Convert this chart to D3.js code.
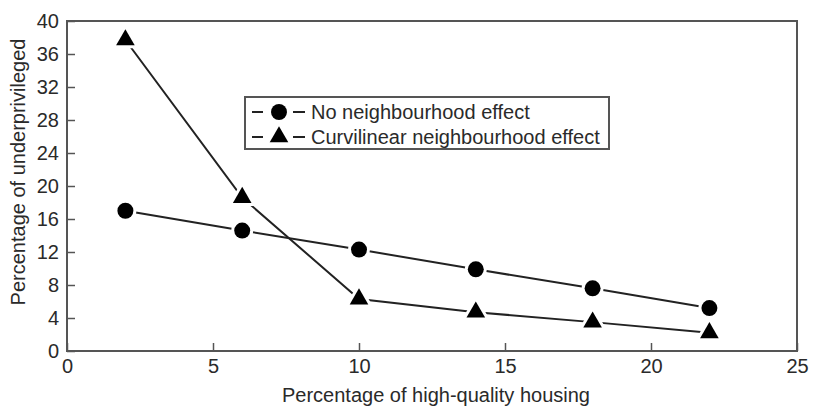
<!DOCTYPE html>
<html lang="en">
<head>
<meta charset="UTF-8">
<title>Underprivileged vs housing</title>
<script src="https://d3js.org/d3.v7.min.js"></script>
<style>
  body { margin: 0; background: #fff; }
  svg { font-family: 'Liberation Sans', Arial, sans-serif; }
</style>
</head>
<body>
<div id="chart"></div>
<script>
// data
const xValues = [2, 6, 10, 14, 18, 22];
const noEffect = [17, 14.6, 12.3, 9.9, 7.6, 5.2];
const curvilinear = [37.7, 18.6, 6.3, 4.7, 3.5, 2.2];
const xTicks = [0, 5, 10, 15, 20, 25];
const yTicks = [0, 4, 8, 12, 16, 20, 24, 28, 32, 36, 40];
const seriesNames = ['No neighbourhood effect', 'Curvilinear neighbourhood effect'];

const W = 814, H = 408;
const margin = { top: 21, right: 17, bottom: 57, left: 67 };
const iw = W - margin.left - margin.right;
const ih = H - margin.top - margin.bottom;

const svg = d3.select('#chart').append('svg')
  .attr('width', W).attr('height', H);
const g = svg.append('g').attr('transform', `translate(${margin.left},${margin.top})`);

const x = d3.scaleLinear().domain([0, 25]).range([0, iw]);
const y = d3.scaleLinear().domain([0, 40]).range([ih, 0]);

const axisColor = '#555';
const textColor = '#2a2a2a';

const line = d3.line().x(d => x(d[0])).y(d => y(d[1]));
const circleSym = d3.symbol().type(d3.symbolCircle).size(200);
const triSym = d3.symbol().type(d3.symbolTriangle).size(150);

function drawSeries(vals, sym) {
  const pts = xValues.map((v, i) => [v, vals[i]]);
  g.append('path').datum(pts).attr('d', line)
    .attr('fill', 'none').attr('stroke', '#222').attr('stroke-width', 2);
  g.selectAll(null).data(pts).enter().append('path')
    .attr('d', sym)
    .attr('transform', d => `translate(${x(d[0])},${y(d[1])})`)
    .attr('fill', '#000').attr('stroke', '#fff').attr('stroke-width', 6)
    .attr('paint-order', 'stroke');
}
drawSeries(noEffect, circleSym);
drawSeries(curvilinear, triSym);

// frame drawn over the marks
g.append('rect').attr('width', iw).attr('height', ih)
  .attr('fill', 'none').attr('stroke', axisColor).attr('stroke-width', 2);

// y axis, ticks pointing inward
const yAxis = g.append('g')
  .call(d3.axisRight(y).tickValues(yTicks).tickSize(8).tickFormat(d3.format('d')));
yAxis.select('.domain').remove();
yAxis.selectAll('line').attr('stroke', axisColor).attr('stroke-width', 1.5);
yAxis.selectAll('text').attr('x', -8).attr('text-anchor', 'end')
  .attr('font-size', 20).attr('fill', textColor);

// x axis, ticks pointing inward
const xAxis = g.append('g').attr('transform', `translate(0,${ih})`)
  .call(d3.axisTop(x).tickValues(xTicks).tickSize(8).tickFormat(d3.format('d')));
xAxis.select('.domain').remove();
xAxis.selectAll('line').attr('stroke', axisColor).attr('stroke-width', 1.5);
xAxis.selectAll('text').attr('y', 8).attr('dy', '0.71em')
  .attr('font-size', 20).attr('fill', textColor);

// axis titles
svg.append('text')
  .attr('x', 436).attr('y', 402)
  .attr('text-anchor', 'middle').attr('font-size', 20).attr('fill', textColor)
  .text('Percentage of high-quality housing');
svg.append('text')
  .attr('transform', 'translate(25,172) rotate(-90)')
  .attr('text-anchor', 'middle').attr('font-size', 20).attr('fill', textColor)
  .text('Percentage of underprivileged');

// legend
const lg = svg.append('g').attr('transform', 'translate(245,97)');
lg.append('rect').attr('width', 364).attr('height', 52)
  .attr('fill', '#fff').attr('stroke', axisColor).attr('stroke-width', 2);
[circleSym, triSym].forEach((sym, i) => {
  const cy = 15 + i * 25;
  lg.append('line').attr('x1', 7).attr('x2', 18).attr('y1', cy).attr('y2', cy)
    .attr('stroke', '#222').attr('stroke-width', 2);
  lg.append('line').attr('x1', 48).attr('x2', 60).attr('y1', cy).attr('y2', cy)
    .attr('stroke', '#222').attr('stroke-width', 2);
  lg.append('path').attr('d', sym).attr('transform', `translate(34,${cy})`).attr('fill', '#000');
  lg.append('text').attr('x', 66).attr('y', cy).attr('dy', '0.35em')
    .attr('font-size', 20).attr('fill', textColor).text(seriesNames[i]);
});
</script>
</body>
</html>
